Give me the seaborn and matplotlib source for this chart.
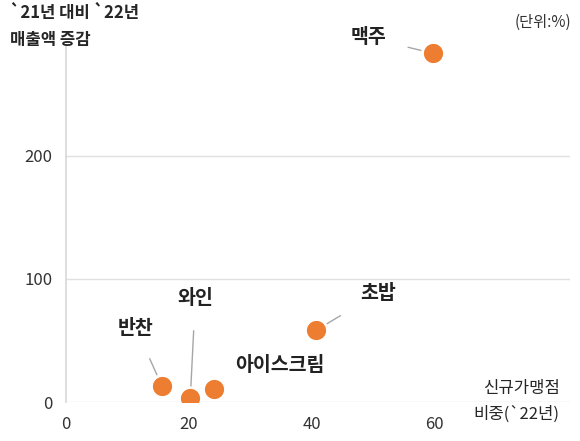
import matplotlib
matplotlib.use("Agg")
import matplotlib.pyplot as plt
import seaborn as sns
import pandas as pd

items = ["맥주", "초밥", "반찬", "와인", "아이스크림"]
share = [59.7, 40.7, 15.6, 20.2, 24.1]
growth = [283, 58.5, 13, 3, 10.6]
# label offsets in pixels from the point
offsets = [(-65, 16), (62, 37), (-26, 58), (5, 100), (66, 24)]
leaders = [True, True, True, True, False]

sns.set_theme(style="white")
plt.rcParams["font.family"] = ["Noto Sans CJK KR", "DejaVu Sans"]

df = pd.DataFrame({"item": items, "share": share, "growth": growth})

fig = plt.figure(figsize=(5.8, 4.41), dpi=100)
ax = fig.add_axes([0.114, 0.088, 0.869, 0.844])
sns.scatterplot(data=df, x="share", y="growth", ax=ax, s=220,
                color="#ED7D31", edgecolor="white", linewidth=1, zorder=3)

for name, x, y, off, ld in zip(items, share, growth, offsets, leaders):
    ax.annotate(name, xy=(x, y), xytext=off, textcoords="offset pixels",
                ha="center", va="center", fontsize=14, fontweight="bold",
                color="#222222",
                arrowprops=dict(arrowstyle="-", color="#A6A6A6", lw=1,
                                shrinkA=14, shrinkB=9) if ld else None)

ax.set_xlim(0, 82)
ax.set_ylim(0, 302)
ax.set_xticks([0, 20, 40, 60])
ax.set_yticks([0, 100, 200])
ax.grid(axis="y", color="#E0E0E0", lw=1)
for s in ["top", "right", "bottom"]:
    ax.spines[s].set_visible(False)
ax.spines["left"].set_color("#D9D9D9")
ax.spines["left"].set_bounds(0, 290)
ax.tick_params(axis="both", labelsize=12, colors="#333333", length=0, pad=10)
ax.set_xlabel("")
ax.set_ylabel("")

fig.text(0.017, 0.99, "`21년 대비 `22년\n매출액 증감", ha="left", va="top",
         fontsize=12, fontweight="bold", linespacing=1.6)
fig.text(0.985, 0.95, "(단위:%)", ha="right", va="center", fontsize=11, color="#333333")
fig.text(0.965, 0.09, "신규가맹점\n비중(`22년)", ha="right", va="center",
         fontsize=12, linespacing=1.6)

fig.savefig("out.png", dpi=100)
